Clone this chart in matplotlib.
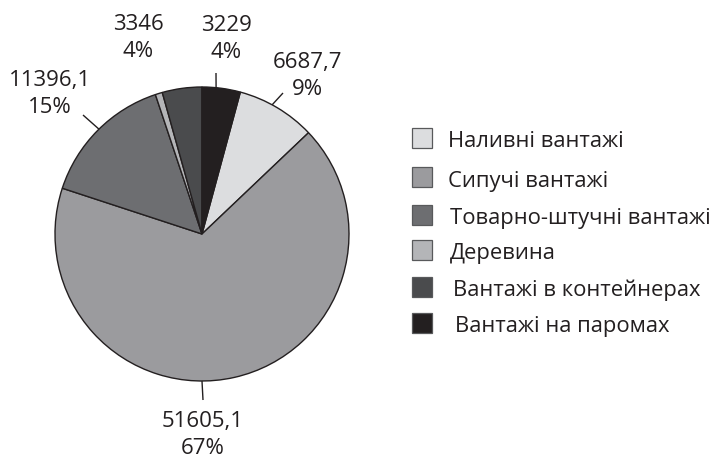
import matplotlib.pyplot as plt
import numpy as np
from matplotlib.patches import Rectangle

plt.rcParams['font.family'] = ['Open Sans', 'DejaVu Sans']

categories = ['Наливні вантажі', 'Сипучі вантажі', 'Товарно-штучні вантажі',
              'Деревина', 'Вантажі в контейнерах', 'Вантажі на паромах']
values = [6687.7, 51605.1, 11396.1, 600.0, 3346.0, 3229.0]
value_labels = ['6687,7', '51605,1', '11396,1', None, '3346', '3229']
colors = ['#dcdddf', '#9b9b9e', '#6d6e71', '#b4b5b8', '#4a4b4d', '#231f20']

ink = '#231f20'
W, H = 712, 461
cx, cy, R = 202, 227, 147

fig = plt.figure(figsize=(W / 100, H / 100), dpi=100)
ax = fig.add_axes([0, 0, 1, 1])

total = sum(values)
start = 90 - 360 * values[-1] / total
wedges, _ = ax.pie(values, colors=colors, startangle=start, counterclock=False,
                   center=(cx, cy), radius=R,
                   wedgeprops=dict(edgecolor=ink, linewidth=1.0))
ax.set_xlim(0, W)
ax.set_ylim(0, H)
ax.set_aspect('equal')
ax.axis('off')

# label block centres (pixels, y up) and leader lines (rim angle, outer end)
label_xy = [(307, 385), (203, 26), (50, 367), None, (138, 423), (226, 422)]
leaders = [(61.5, (283, 368)), (-90, (203, 61)), (134.5, (83, 346)),
           None, None, (84.5, (216, 388))]

for i, v in enumerate(values):
    if value_labels[i] is None:
        continue
    pct = round(100 * v / total)
    x, y = label_xy[i]
    ax.text(x, y, f'{value_labels[i]}\n{pct}%', ha='center', va='center',
            fontsize=16, color=ink, linespacing=1.36)
    if leaders[i] is not None:
        ang, (ex, ey) = leaders[i]
        sx = cx + R * np.cos(np.radians(ang))
        sy = cy + R * np.sin(np.radians(ang))
        ax.plot([sx, ex], [sy, ey], color=ink, lw=1.0, solid_capstyle='butt')

# legend
sq_y = [138, 177.5, 215, 250, 287, 323]
txt_x = [448, 448, 450, 450, 453, 455]
for i, name in enumerate(categories):
    yc = H - sq_y[i]
    ax.add_patch(Rectangle((412, yc - 10), 20, 20, facecolor=colors[i],
                           edgecolor='#58595b', lw=0.9))
    ax.text(txt_x[i], yc - 9, name, ha='left', va='baseline',
            fontsize=15.8, color=ink)

fig.savefig('out.png', dpi=100)
